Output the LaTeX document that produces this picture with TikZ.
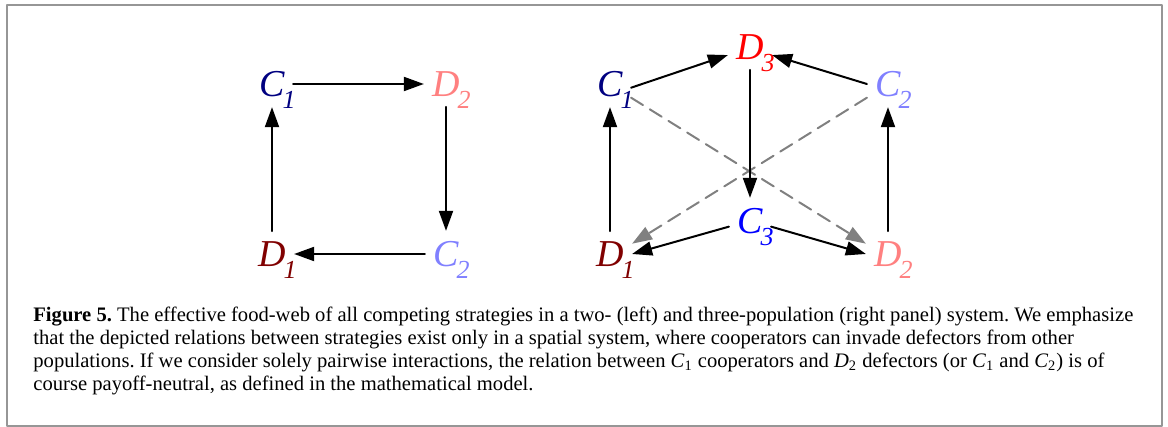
\documentclass[tikz,border=0pt]{standalone}
\usepackage{fontspec}
\setmainfont{Liberation Serif}
\usepackage{tikz}
\usetikzlibrary{arrows.meta}

\definecolor{coopone}{RGB}{0,0,128}
\definecolor{cooptwo}{RGB}{128,128,255}
\definecolor{coopthree}{RGB}{0,0,255}
\definecolor{defone}{RGB}{128,0,0}
\definecolor{deftwo}{RGB}{255,128,128}
\definecolor{defthree}{RGB}{255,0,0}
\definecolor{framegray}{RGB}{150,150,150}
\definecolor{neutralgray}{RGB}{128,128,128}

% strategy label: letter with a lowered index that does not widen the node
\newcommand{\popl}[2]{\fontsize{19}{19}\selectfont\itshape #1%
  \rlap{\kern-1pt\raisebox{-6pt}[0pt][0pt]{\fontsize{13}{13}\selectfont #2}}}

\begin{document}
\frenchspacing
\begin{tikzpicture}[x=0.5pt,y=-0.5pt,>={Triangle[length=10pt,width=7pt]},
    line cap=round,line join=round,
    popn/.style={inner xsep=4pt,inner ysep=5pt},
    eats/.style={->,line width=1pt},
    neutral/.style={->,line width=1pt,neutralgray,dash pattern=on 7pt off 4pt}]
    \useasboundingbox (0,0) rectangle (1168,427);

    % The frame round figure and caption.
    \draw[framegray,line width=1pt] (6.5,5.5) rectangle (1161.5,425.5);

    % Two-population web (left).
    \node[popn,text=coopone]  (lc1) at (272,84)  {\popl{C}{1}};
    \node[popn,text=deftwo]   (ld2) at (446,84)  {\popl{D}{2}};
    \node[popn,text=cooptwo]  (lc2) at (446,254) {\popl{C}{2}};
    \node[popn,text=defone]   (ld1) at (272,254) {\popl{D}{1}};

    \draw[eats] (lc1) -- (ld2);
    \draw[eats] (ld2) -- (lc2);
    \draw[eats] (lc2) -- (ld1);
    \draw[eats] (ld1) -- (lc1);

    % Three-population web (right).
    \node[popn,text=coopone]   (rc1) at (610,84)  {\popl{C}{1}};
    \node[popn,text=defthree]  (rd3) at (750,47)  {\popl{D}{3}};
    \node[popn,text=cooptwo]   (rc2) at (888,84)  {\popl{C}{2}};
    \node[popn,text=coopthree] (rc3) at (750,221) {\popl{C}{3}};
    \node[popn,text=defone]    (rd1) at (610,254) {\popl{D}{1}};
    \node[popn,text=deftwo]    (rd2) at (888,254) {\popl{D}{2}};

    % payoff-neutral pairs, drawn first so they stay behind
    \draw[neutral] (rc1.-33) -- (rd2.155);
    \draw[neutral] (rc2.213) -- (rd1.25);

    \draw[eats] (rc1.-10) -- (rd3.200);
    \draw[eats] (rc2.west) -- (rd3.-20);
    \draw[eats] (rd3) -- (rc3);
    \draw[eats] (rc3.195) -- (rd1.east);
    \draw[eats] (rc3.-15) -- (rd2.west);
    \draw[eats] (rd1) -- (rc1);
    \draw[eats] (rd2) -- (rc2);

    % Caption.
    \node[anchor=north west,align=left,inner sep=0pt,
      font=\fontsize{10.3}{11.5}\selectfont] (caption) at (33,307)
      {\textbf{Figure 5.} The effective food-web of all competing strategies in a two- (left) and three-population (right panel) system. We emphasize\\
       that the depicted relations between strategies exist only in a spatial system, where cooperators can invade defectors from other\\
       populations. If we consider solely pairwise interactions, the relation between \textit{C}\textsubscript{1} cooperators and \textit{D}\textsubscript{2} defectors (or \textit{C}\textsubscript{1} and \textit{C}\textsubscript{2}) is of\\
       course payoff-neutral, as defined in the mathematical model.};
  \end{tikzpicture}
\end{document}
